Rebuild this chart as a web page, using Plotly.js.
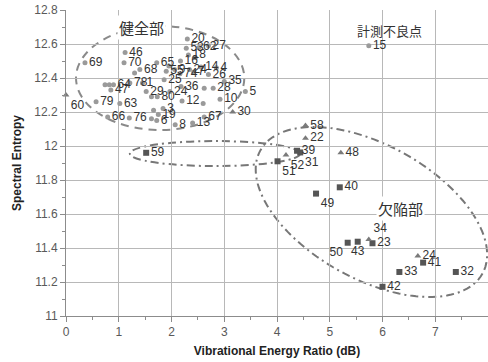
<!DOCTYPE html>
<html>
<head>
<meta charset="utf-8">
<script src="https://cdn.plot.ly/plotly-3.0.1.min.js"></script>
<style>
  html, body { margin: 0; padding: 0; background: #fff; }
  #chart { width: 488px; height: 362px; }
</style>
</head>
<body>
<div id="chart"></div>
<script>
// Healthy specimens (circles)
const healthyX = [0.36, 1.12, 1.10, 1.40, 1.72, 1.90, 2.17, 2.30, 2.28, 2.70, 2.52, 2.32, 2.56, 2.34, 2.85, 2.70, 2.06, 2.42, 2.16, 3.00, 2.79, 3.40, 2.92, 2.20, 1.52, 1.73, 1.97, 1.86, 2.18, 1.21, 1.45, 0.90, 0.85, 0.57, 1.02, 0.79, 1.20, 1.84, 1.75, 1.72, 2.07, 2.40, 2.62,
                  0.74, 0.82, 1.62, 1.62, 1.66, 2.62, 1.30, 2.45, 1.95, 2.60];
const healthyY = [12.49, 12.55, 12.49, 12.45, 12.49, 12.44, 12.50, 12.63, 12.575, 12.59, 12.58, 12.535, 12.465, 12.45, 12.46, 12.42, 12.45, 12.435, 12.425, 12.38, 12.34, 12.32, 12.275, 12.265, 12.32, 12.29, 12.32, 12.39, 12.35, 12.37, 12.37, 12.36, 12.33, 12.26, 12.25, 12.17, 12.165, 12.22, 12.185, 12.15, 12.125, 12.135, 12.17,
                  12.36, 12.36, 12.16, 12.29, 12.21, 12.34, 12.43, 12.52, 12.47, 12.25];
const healthyLabels = ['69', '46', '70', '68', '65', '55', '16', '20', '53', '27', '62', '18', '14', '24', '4', '26', '9', '7', '74', '35', '28', '5', '10', '12', '29', '80', '24', '25', '36', '78', '1', '64', '47', '79', '63', '66', '76', '3', '19', '6', '8', '13', '67',
                       '', '', '', '', '', '', '', '', '', ''];

// Measurement failure
const failX = [5.74];
const failY = [12.59];
const failLabels = ['15'];

// Defect specimens (squares)
const squareX = [1.52, 4.01, 4.38, 4.44, 4.74, 5.19, 5.34, 5.53, 5.81, 6.77, 6.32, 7.39, 6.00];
const squareY = [11.96, 11.91, 11.972, 11.962, 11.72, 11.757, 11.431, 11.437, 11.428, 11.314, 11.259, 11.259, 11.172];
const squareLabels = ['59', '51', '39', '31', '49', '40', '50', '43', '23', '41', '33', '32', '42'];
const squarePos = ['middle right', 'bottom right', 'middle right', 'bottom right', 'bottom right', 'middle right',
                   'bottom left', 'bottom center', 'middle right', 'middle right', 'middle right', 'middle right', 'middle right'];

// Defect specimens (triangles)
const triX = [4.54, 4.54, 4.17, 5.21, 5.74, 6.67, 3.16, 0.00];
const triY = [12.12, 12.045, 11.947, 11.96, 11.45, 11.353, 12.20, 12.30];
const triLabels = ['58', '22', '52', '48', '34', '24', '30', '60'];
const triPos = ['middle right', 'middle right', 'bottom right', 'middle right', 'top right', 'middle right', 'middle right', 'bottom right'];

const xTickVals = [0, 1, 2, 3, 4, 5, 6, 7, 8];
const yTickVals = [11, 11.2, 11.4, 11.6, 11.8, 12, 12.2, 12.4, 12.6, 12.8];

const W = 488, H = 362;
const M = { l: 66, r: 0, t: 10, b: 46 };
const xRange = [0, 8], yRange = [11, 12.8];
const pxX = (W - M.l - M.r) / (xRange[1] - xRange[0]);
const pxY = (H - M.t - M.b) / (yRange[1] - yRange[0]);

// rotated ellipse around the defect group, sized in screen pixels
function ellipsePath(cx, cy, a, b, deg) {
  const t = deg * Math.PI / 180;
  const pts = [];
  for (let i = 0; i < 120; i++) {
    const p = i / 120 * 2 * Math.PI;
    const ox = a * Math.cos(p) * Math.cos(t) - b * Math.sin(p) * Math.sin(t);
    const oy = a * Math.cos(p) * Math.sin(t) + b * Math.sin(p) * Math.cos(t);
    pts.push((cx + ox / pxX).toFixed(4) + ',' + (cy - oy / pxY).toFixed(4));
  }
  return 'M' + pts.join(' L') + ' Z';
}

const labelFont = { family: 'Liberation Sans, Arial, sans-serif', size: 12, color: '#333' };
const jpFont = { family: 'Noto Sans CJK JP, sans-serif', size: 15, color: '#333' };

const traces = [
  {
    x: healthyX, y: healthyY, text: healthyLabels, type: 'scatter', mode: 'markers+text',
    textposition: 'middle right', textfont: labelFont, cliponaxis: false,
    marker: { symbol: 'circle', size: 5, color: '#9a9a9a' }, hoverinfo: 'none'
  },
  {
    x: failX, y: failY, text: failLabels, type: 'scatter', mode: 'markers+text',
    textposition: 'middle right', textfont: labelFont,
    marker: { symbol: 'circle', size: 5, color: '#9a9a9a' }, hoverinfo: 'none'
  },
  {
    x: squareX, y: squareY, text: squareLabels, type: 'scatter', mode: 'markers+text',
    textposition: squarePos, textfont: labelFont,
    marker: { symbol: 'square', size: 6, color: '#555' }, hoverinfo: 'none'
  },
  {
    x: triX, y: triY, text: triLabels, type: 'scatter', mode: 'markers+text',
    textposition: triPos, textfont: labelFont, cliponaxis: false,
    marker: { symbol: 'triangle-up', size: 6, color: '#7a7a7a' }, hoverinfo: 'none'
  }
];

const axisCommon = {
  showgrid: true, gridcolor: '#b8b8b8', gridwidth: 1,
  showline: true, linecolor: '#8c8c8c', linewidth: 1,
  ticks: 'outside', ticklen: 5, tickcolor: '#8c8c8c',
  tickfont: { family: 'Liberation Sans, Arial, sans-serif', size: 12, color: '#595959' },
  zeroline: false, fixedrange: true
};

const layout = {
  width: W, height: H, margin: M,
  paper_bgcolor: '#fff', plot_bgcolor: '#fff',
  showlegend: false,
  xaxis: Object.assign({}, axisCommon, {
    range: xRange, tickvals: xTickVals,
    minor: { dtick: 0.5, ticks: 'outside', ticklen: 3, tickcolor: '#8c8c8c', showgrid: false },
    title: { text: 'Vibrational Energy Ratio (dB)', standoff: 8,
             font: { family: 'Liberation Sans, Arial, sans-serif', size: 12, color: '#222', weight: 'bold' } }
  }),
  yaxis: Object.assign({}, axisCommon, {
    range: yRange, tickvals: yTickVals,
    minor: { dtick: 0.1, ticks: 'outside', ticklen: 3, tickcolor: '#8c8c8c', showgrid: false },
    title: { text: 'Spectral Entropy', standoff: 10,
             font: { family: 'Liberation Sans, Arial, sans-serif', size: 12, color: '#222', weight: 'bold' } }
  }),
  shapes: [
    { type: 'circle', xref: 'x', yref: 'y', x0: 0.19, x1: 3.38, y0: 12.094, y1: 12.706,
      line: { color: '#8a8a8a', width: 2, dash: '8px,6px' }, layer: 'below' },
    { type: 'circle', xref: 'x', yref: 'y', x0: 1.21, x1: 4.44, y0: 11.882, y1: 12.029,
      line: { color: '#777', width: 2, dash: '8px,4px,2px,4px' }, layer: 'below' },
    { type: 'path', xref: 'x', yref: 'y', path: ellipsePath(5.79, 11.612, 127, 67, 29),
      line: { color: '#777', width: 2, dash: '8px,4px,2px,4px' }, layer: 'below' }
  ],
  annotations: [
    { text: '健全部', x: 1.44, y: 12.70, xref: 'x', yref: 'y', showarrow: false,
      font: jpFont, bgcolor: '#fff', borderpad: 1 },
    { text: '欠陥部', x: 6.34, y: 11.63, xref: 'x', yref: 'y', showarrow: false,
      font: jpFont, bgcolor: '#fff', borderpad: 1 },
    { text: '計測不良点', x: 6.13, y: 12.68, xref: 'x', yref: 'y', showarrow: false,
      font: Object.assign({}, jpFont, { size: 13 }) }
  ]
};

Plotly.newPlot('chart', traces, layout, { staticPlot: true, displayModeBar: false });
</script>
</body>
</html>
